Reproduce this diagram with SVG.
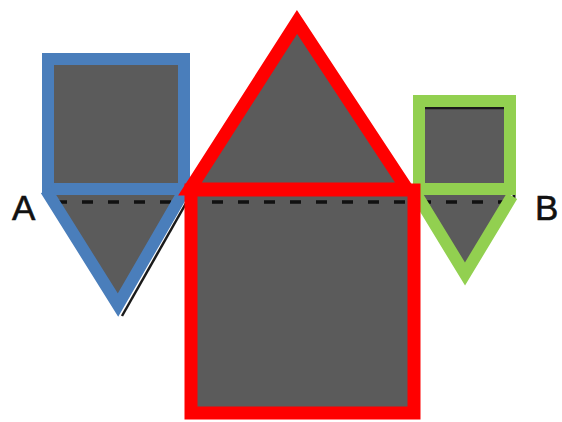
<svg xmlns="http://www.w3.org/2000/svg" width="562" height="422" viewBox="0 0 562 422">
  <style>
    .fill { fill: #5b5b5b; stroke: none; }
    .blue { fill: none; stroke: #4a7ebb; stroke-width: 12; stroke-linejoin: miter; }
    .red { fill: none; stroke: #ff0000; stroke-width: 13; stroke-linejoin: miter; }
    .green { fill: none; stroke: #92d050; stroke-width: 12; stroke-linejoin: miter; }
    .dash { fill: none; stroke: #111; stroke-width: 3.5; stroke-dasharray: 11 15; }
    .shadow { fill: none; stroke: #1a1a1a; stroke-width: 2.5; }
    .label { font-family: "Liberation Sans", Arial, sans-serif; font-size: 35px; fill: #111; stroke: #111; stroke-width: 0.6; }
  </style>
  <rect width="562" height="422" fill="#ffffff"/>

  <g id="fills">
    <rect class="fill" x="48" y="59" width="136" height="130"/>
    <polygon class="fill" points="48,189 184,189 118,305"/>
    <polygon class="fill" points="190,189 407,189 297,22"/>
    <rect class="fill" x="191" y="190" width="223" height="223"/>
    <rect class="fill" x="419" y="101" width="91" height="88"/>
    <polygon class="fill" points="414,190 511,192 465,274"/>
  </g>

  <g id="connectors">
    <line class="dash" x1="56" y1="202" x2="512" y2="202"/>
  </g>

  <g id="shadows">
    <line class="shadow" x1="189" y1="198" x2="122" y2="316"/>
    <line class="shadow" x1="425" y1="108" x2="504" y2="108" stroke-width="2"/>
    <line x1="514" y1="189" x2="514" y2="199" stroke="#1a1a1a" stroke-width="3"/>
  </g>

  <g id="blue-square">
    <rect class="blue" x="48" y="59" width="136" height="130"/>
  </g>
  <g id="blue-triangle">
    <polyline class="blue" points="46,190 118,305 184,191"/>
  </g>

  <g id="green-square">
    <rect class="green" x="419" y="101" width="91" height="88"/>
  </g>
  <g id="green-triangle">
    <polyline class="green" points="415,192 465,274 512,196"/>
  </g>

  <g id="red-triangle">
    <polygon class="red" points="190,189 407,189 297,22"/>
  </g>
  <g id="red-square">
    <rect class="red" x="191" y="190" width="223" height="223"/>
  </g>

  <g id="labels">
    <text class="label" x="12" y="220">A</text>
    <text class="label" x="535" y="220">B</text>
  </g>
</svg>
